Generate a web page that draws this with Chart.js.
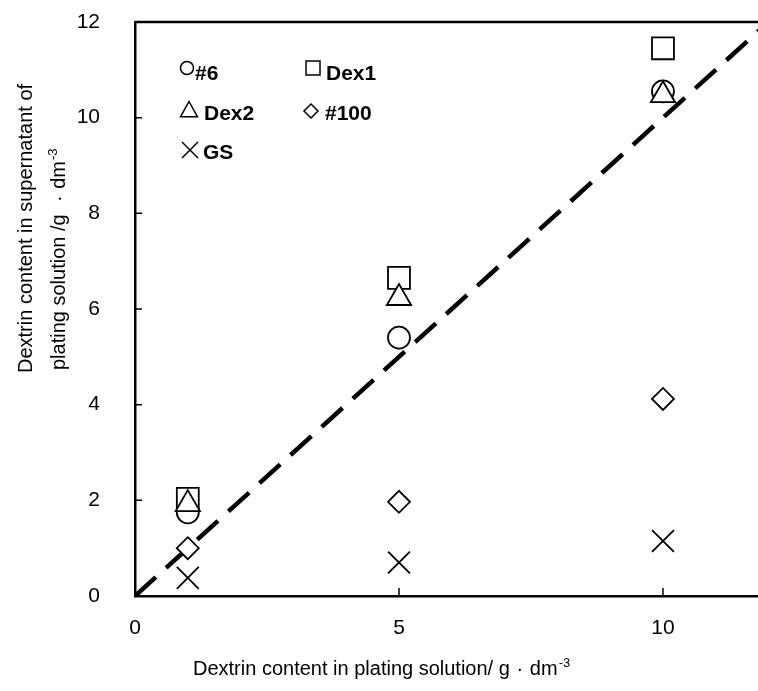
<!DOCTYPE html>
<html>
<head>
<meta charset="utf-8">
<script src="https://cdn.jsdelivr.net/npm/chart.js"></script>
<style>
  html, body { margin: 0; padding: 0; background: #fff; overflow: hidden; }
  #wrap { width: 758px; height: 691px; position: relative; }
  #chart { display: block; }
</style>
</head>
<body>
<div id="wrap"><canvas id="chart"></canvas></div>
<script>
// dextrin added to the plating solution (g/dm3)
const xValues = [1, 5, 10];

// dextrin found in the supernatant (g/dm3)
const series6 = [1.75, 5.4, 10.55];
const seriesDex1 = [2.03, 6.65, 11.45];
const seriesDex2 = [1.92, 6.23, 10.47];
const series100 = [1.0, 1.97, 4.12];
const seriesGS = [0.38, 0.7, 1.15];

// y = x reference line
const diagonalX = [0, 12];
const diagonalY = [0, 12];

const xTicks = [0, 5, 10];
const yTicks = [0, 2, 4, 6, 8, 10, 12];

const FONT = '"Liberation Sans", Arial, "DejaVu Sans", sans-serif';
const DOT = '\u2004\u00b7\u2004';

const toPoints = (xs, ys) => xs.map((x, i) => ({x: x, y: ys[i]}));

function markerSet(label, ys, style, radius, order) {
    return {
        label: label,
        data: toPoints(xValues, ys),
        pointStyle: style,
        pointRadius: radius,
        pointHoverRadius: radius,
        pointBorderWidth: 1.8,
        borderColor: '#000',
        backgroundColor: '#fff',
        showLine: false,
        order: order
    };
}

// little shapes for the legend, drawn by hand
function legendShape(ctx, style, x, y, s) {
    ctx.beginPath();
    if (style === 'circle') {
        ctx.arc(x, y, s, 0, Math.PI * 2);
    } else if (style === 'rect') {
        ctx.rect(x - s, y - s, 2 * s, 2 * s);
    } else if (style === 'triangle') {
        ctx.moveTo(x, y - s);
        ctx.lineTo(x + s, y + s * 0.8);
        ctx.lineTo(x - s, y + s * 0.8);
        ctx.closePath();
    } else if (style === 'rectRot') {
        ctx.moveTo(x, y - s);
        ctx.lineTo(x + s, y);
        ctx.lineTo(x, y + s);
        ctx.lineTo(x - s, y);
        ctx.closePath();
    } else if (style === 'crossRot') {
        ctx.moveTo(x - s, y - s);
        ctx.lineTo(x + s, y + s);
        ctx.moveTo(x + s, y - s);
        ctx.lineTo(x - s, y + s);
    }
    ctx.stroke();
}

const legendItems = [
    {text: '#6', style: 'circle', mx: 187, my: 68, size: 6.5, tx: 195, ty: 80},
    {text: 'Dex1', style: 'rect', mx: 313, my: 68, size: 7, tx: 326, ty: 80},
    {text: 'Dex2', style: 'triangle', mx: 189, my: 110, size: 8.5, tx: 204, ty: 120},
    {text: '#100', style: 'rectRot', mx: 311, my: 111, size: 7, tx: 325, ty: 120},
    {text: 'GS', style: 'crossRot', mx: 190, my: 150, size: 8, tx: 203, ty: 159}
];

function textWithSup(ctx, base, sup, x, y, size) {
    ctx.font = size + 'px ' + FONT;
    ctx.fillText(base, x, y);
    const w = ctx.measureText(base).width;
    ctx.font = Math.round(size * 0.65) + 'px ' + FONT;
    ctx.fillText(sup, x + w + 1, y - size * 0.42);
}

const decor = {
    id: 'decor',
    afterDraw(chart) {
        const ctx = chart.ctx;
        const area = chart.chartArea;
        const xs = chart.scales.x;
        const ys = chart.scales.y;
        ctx.save();
        ctx.strokeStyle = '#000';
        ctx.fillStyle = '#000';

        // top frame line
        ctx.lineWidth = 2.5;
        ctx.beginPath();
        ctx.moveTo(area.left, area.top);
        ctx.lineTo(area.right, area.top);
        ctx.stroke();

        // inward tick marks
        ctx.lineWidth = 1.5;
        ctx.beginPath();
        xTicks.slice(1).forEach(v => {
            const px = xs.getPixelForValue(v);
            ctx.moveTo(px, area.bottom);
            ctx.lineTo(px, area.bottom - 8);
        });
        yTicks.slice(1, -1).forEach(v => {
            const py = ys.getPixelForValue(v);
            ctx.moveTo(area.left, py);
            ctx.lineTo(area.left + 7, py);
        });
        ctx.stroke();

        // legend
        ctx.lineWidth = 1.5;
        ctx.textAlign = 'left';
        ctx.textBaseline = 'alphabetic';
        legendItems.forEach(it => {
            legendShape(ctx, it.style, it.mx, it.my, it.size);
            ctx.font = 'bold 21px ' + FONT;
            ctx.fillText(it.text, it.tx, it.ty);
        });

        // axis titles
        textWithSup(ctx, 'Dextrin content in plating solution/ g' + DOT + 'dm', '-3', 193, 675, 20);

        ctx.save();
        ctx.translate(32, 373);
        ctx.rotate(-Math.PI / 2);
        ctx.font = '20px ' + FONT;
        ctx.fillText('Dextrin content in supernatant of', 0, 0);
        ctx.restore();

        ctx.save();
        ctx.translate(65, 370);
        ctx.rotate(-Math.PI / 2);
        textWithSup(ctx, 'plating solution /g ' + DOT + 'dm', '-3', 0, 0, 20);
        ctx.restore();

        ctx.restore();
    }
};

new Chart(document.getElementById('chart'), {
    type: 'scatter',
    data: {
        datasets: [
            markerSet('Dex2', seriesDex2, 'triangle', 14, 0),
            markerSet('Dex1', seriesDex1, 'rect', 15.5, 1),
            markerSet('#6', series6, 'circle', 11, 2),
            markerSet('#100', series100, 'rectRot', 11, 3),
            markerSet('GS', seriesGS, 'crossRot', 15.5, 4),
            {
                label: 'y = x',
                type: 'line',
                data: toPoints(diagonalX, diagonalY),
                showLine: true,
                borderColor: '#000',
                borderWidth: 4.5,
                borderDash: [28, 14],
                pointRadius: 0,
                fill: false,
                order: 5
            }
        ]
    },
    options: {
        responsive: true,
        maintainAspectRatio: false,
        animation: false,
        layout: {autoPadding: false, padding: {top: 22, right: 0, bottom: 0, left: 0}},
        plugins: {
            legend: {display: false},
            tooltip: {enabled: false}
        },
        scales: {
            x: {
                type: 'linear',
                min: 0,
                max: 11.8,
                grid: {display: false, drawTicks: false},
                border: {display: true, color: '#000', width: 2.5},
                afterBuildTicks: s => { s.ticks = xTicks.map(v => ({value: v})); },
                afterFit: s => { s.height = 95; s.paddingLeft = 0; s.paddingRight = 0; },
                ticks: {color: '#000', padding: 20, maxRotation: 0, font: {family: FONT, size: 21}}
            },
            y: {
                type: 'linear',
                min: 0,
                max: 12,
                grid: {display: false, drawTicks: false},
                border: {display: true, color: '#000', width: 2.5},
                afterBuildTicks: s => { s.ticks = yTicks.map(v => ({value: v})); },
                afterFit: s => { s.width = 135; s.paddingTop = 0; s.paddingBottom = 0; },
                ticks: {color: '#000', padding: 35, font: {family: FONT, size: 21}}
            }
        }
    },
    plugins: [decor]
});
</script>
</body>
</html>
